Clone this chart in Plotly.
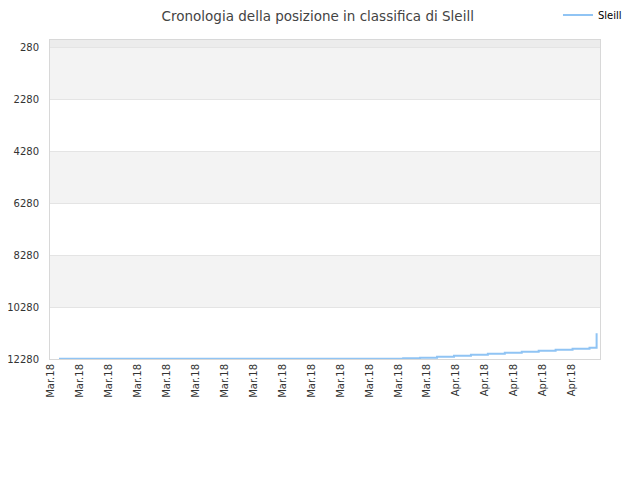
import plotly.graph_objects as go

# Ranking history for Sleill (lower number = better position)
dates = [
    "2018-03-08 16:20", "2018-03-29", "2018-03-30", "2018-03-31",
    "2018-04-01", "2018-04-02", "2018-04-03", "2018-04-04",
    "2018-04-05", "2018-04-06", "2018-04-07", "2018-04-08",
    "2018-04-09", "2018-04-09 10:05",
]
ranks = [
    12272, 12252, 12228, 12192,
    12153, 12115, 12076, 12038,
    12000, 11961, 11923, 11884,
    11846, 11292,
]
y_ticks = [280, 2280, 4280, 6280, 8280, 10280, 12280]
y_labels = [str(v) for v in y_ticks]

fig = go.Figure()

# alternating bands behind the grid
band_colors = ["#ececec", "#f3f3f3", "#ffffff", "#f3f3f3", "#ffffff", "#f3f3f3", "#ffffff"]
edges = [1] + y_ticks
for i in range(len(edges) - 1):
    fig.add_shape(type="rect", xref="paper", yref="y", x0=0, x1=1,
                  y0=edges[i], y1=edges[i + 1], fillcolor=band_colors[i],
                  line_width=0, layer="below")

fig.add_trace(go.Scatter(
    x=dates, y=ranks, name="Sleill", mode="lines",
    line=dict(color="#90c4f4", width=2, shape="hv"),
))

# page body has an 8px margin, so margins are shifted to compensate
fig.update_layout(
    width=640, height=480,
    margin=dict(l=42, r=48, t=32, b=129, autoexpand=False),
    paper_bgcolor="white", plot_bgcolor="rgba(0,0,0,0)",
    font=dict(family="DejaVu Sans", color="#333333", size=10),
    title=dict(text="Cronologia della posizione in classifica di Sleill",
               x=0.484, xanchor="center", y=0.982, yanchor="middle",
               font=dict(size=13.5, color="#444444")),
    showlegend=True,
    legend=dict(x=0.9236, y=1.078, xanchor="left", yanchor="middle",
                font=dict(size=10, color="#000000"), bgcolor="rgba(0,0,0,0)",
                itemwidth=30),
    xaxis=dict(type="date", range=["2018-03-08 03:36", "2018-04-09 14:53"],
               tick0="2018-03-08 05:02", dtick=147606000, tickformat="%b.%y",
               tickangle=-90, showgrid=False, showline=True, linecolor="#d8d8d8",
               mirror=True, ticks="", tickfont=dict(size=10, color="#333333"),
               zeroline=False, automargin=False),
    yaxis=dict(range=[12280, 1], tickvals=y_ticks, ticktext=y_labels,
               showgrid=True, gridcolor="#e4e4e4", showline=True,
               linecolor="#d8d8d8", mirror=True, ticks="", ticklabelstandoff=8,
               zeroline=False, automargin=False,
               tickfont=dict(size=10, color="#333333")),
)

fig.write_html("out.html")
